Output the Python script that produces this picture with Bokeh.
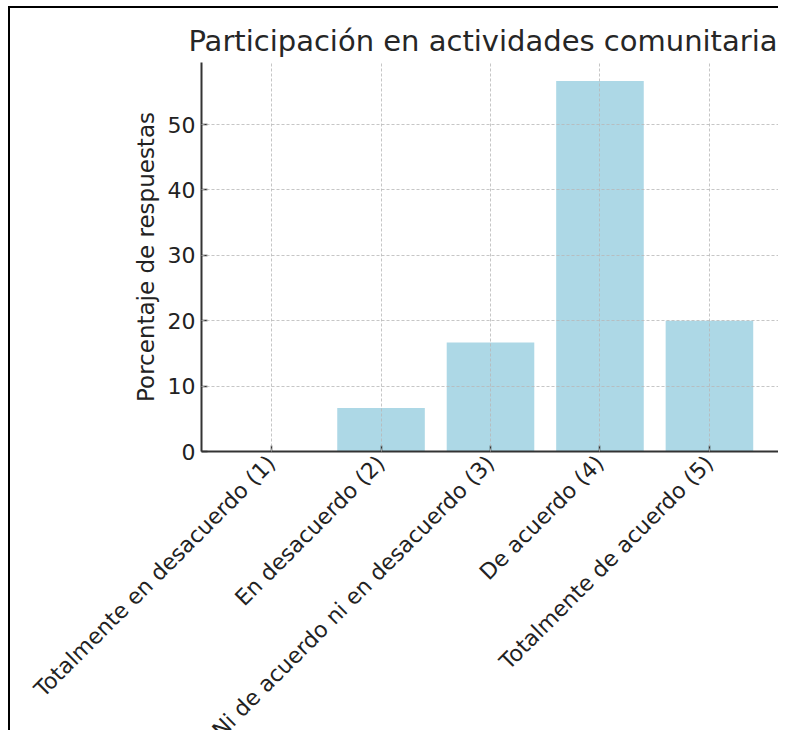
import math
from bokeh.plotting import figure
from bokeh.models import ColumnDataSource, FactorRange, Range1d, FixedTicker, Spacer
from bokeh.layouts import column, row
from bokeh.embed import file_html
from bokeh.resources import INLINE

categories = [
    "Totalmente en desacuerdo (1)",
    "En desacuerdo (2)",
    "Ni de acuerdo ni en desacuerdo (3)",
    "De acuerdo (4)",
    "Totalmente de acuerdo (5)",
]
percentages = [0.0, 6.67, 16.67, 56.67, 20.0]
y_ticks = [0, 10, 20, 30, 40, 50]

title_text = "Participación en actividades comunitarias"
y_label = "Porcentaje de respuestas"

FONT = "DejaVu Sans"
TXT = "#222222"

source = ColumnDataSource(data=dict(cat=categories, pct=percentages))

p = figure(
    width=770,
    height=760,
    x_range=FactorRange(factors=categories, range_padding=0.056, range_padding_units="percent"),
    y_range=Range1d(0, 59.5),
    output_backend="svg",
    toolbar_location=None,
    title=title_text,
    min_border_left=191,
    min_border_right=1,
    min_border_top=54,
    min_border_bottom=317,
    width_policy="fixed",
    height_policy="fixed",
)
p.styles = {"border-left": "2px solid black", "border-top": "2px solid black"}

p.vbar(x="cat", top="pct", width=0.8, source=source, fill_color="#add8e6", line_color=None)

p.title.text_font = FONT
p.title.text_font_size = "29px"
p.title.text_font_style = "normal"
p.title.text_color = "#262626"
p.title.align = "center"
p.title.standoff = 10

p.outline_line_color = None
p.background_fill_color = "white"
p.border_fill_color = "white"

for ax in (p.xaxis[0], p.yaxis[0]):
    ax.axis_line_color = "#333333"
    ax.axis_line_width = 2
    ax.major_tick_in = 6
    ax.major_tick_out = 0
    ax.major_tick_line_color = "#333333"
    ax.major_tick_line_width = 1.5
    ax.minor_tick_line_color = None
    ax.major_label_text_font = FONT
    ax.major_label_text_color = TXT
    ax.major_label_text_font_size = "22px"

p.yaxis.ticker = FixedTicker(ticks=y_ticks)
p.yaxis.major_label_standoff = 6
p.yaxis.axis_label = y_label
p.yaxis.axis_label_text_font = FONT
p.yaxis.axis_label_text_font_size = "23px"
p.yaxis.axis_label_text_font_style = "normal"
p.yaxis.axis_label_text_color = TXT
p.yaxis.axis_label_standoff = 6

p.xaxis.major_label_orientation = math.pi / 4
p.xaxis.major_label_standoff = 8

for g in (p.xgrid[0], p.ygrid[0]):
    g.grid_line_color = "#b8b8b8"
    g.grid_line_alpha = 0.8
    g.grid_line_dash = "3 2"
    g.grid_line_width = 1
    g.level = "overlay"
p.ygrid.ticker = FixedTicker(ticks=y_ticks[1:])

inner = row(Spacer(width=8, height=760), p, spacing=0)
layout = column(
    Spacer(height=6, width=780),
    inner,
    spacing=0,
    styles={"height": "730px", "width": "780px", "overflow": "hidden"},
)

open("out.html", "w").write(file_html(layout, INLINE))
